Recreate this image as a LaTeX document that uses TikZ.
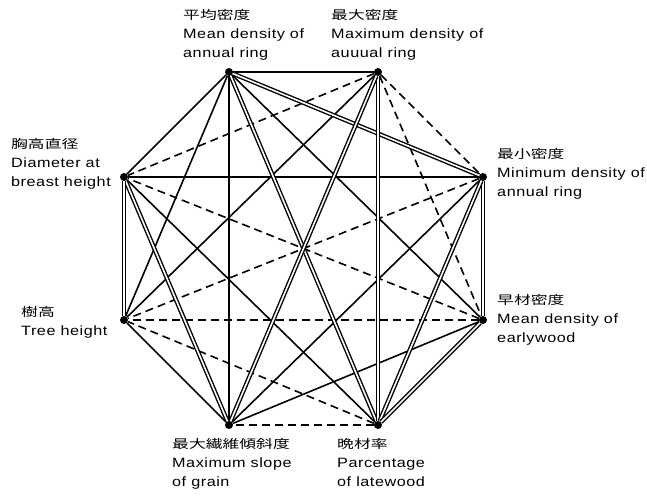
\documentclass[tikz,border=0pt]{standalone}
\usepackage{fontspec}
\setmainfont{Liberation Sans}[FakeStretch=1.2,LetterSpace=4]
\newfontfamily\jpfont{Noto Sans CJK JP}[FakeStretch=1.4]
\newcommand\jpline[1]{{\jpfont\fontsize{12}{19}\selectfont #1}}
\begin{document}
\begin{tikzpicture}[
  x=1pt, y=-1pt,
  tree/.style={circle, fill=black, inner sep=0pt, minimum size=8pt},
  lab/.style={anchor=base west, align=left, inner sep=0pt,
    font=\fontsize{13.5}{19}\selectfont},
  plain/.style={line width=1.6pt},
  strong/.style={double, line width=1.4pt, double distance=1.6pt},
  neg/.style={dash pattern=on 8pt off 5pt, line width=1.6pt},
]
\useasboundingbox (0,0) rectangle (647,498);

% Variables
\node[tree] (meanring) at (229,72) {};
\node[tree] (maxring) at (378,72) {};
\node[tree] (minring) at (483,177) {};
\node[tree] (early) at (483,320) {};
\node[tree] (late) at (378,425) {};
\node[tree] (slope) at (229,425) {};
\node[tree] (height) at (124,320) {};
\node[tree] (dbh) at (124,177) {};

% Labels (anchored on the last line)
\node[lab] (meanringlab) at (183,57) {\jpline{平均密度}\\Mean density of\\annual ring};
\node[lab] (maxringlab) at (331,57) {\jpline{最大密度}\\Maximum density of\\auuual ring};
\node[lab] (minringlab) at (497,196) {\jpline{最小密度}\\Minimum density of\\annual ring};
\node[lab] (earlylab) at (497,342) {\jpline{早材密度}\\Mean density of\\earlywood};
\node[lab] (latelab) at (337,486) {\jpline{晩材率}\\Parcentage\\of latewood};
\node[lab] (slopelab) at (172,486) {\jpline{最大繊維傾斜度}\\Maximum slope\\of grain};
\node[lab] (heightlab) at (21,335) {\jpline{樹高}\\Tree height};
\node[lab] (dbhlab) at (11,186) {\jpline{胸高直径}\\Diameter at\\breast height};

% Dashed links
\draw[neg] (maxring) -- (minring);
\draw[neg] (maxring) -- (early);
\draw[neg] (maxring) -- (dbh);
\draw[neg] (minring) -- (height);
\draw[neg] (early) -- (height);
\draw[neg] (early) -- (dbh);
\draw[neg] (late) -- (slope);
\draw[neg] (late) -- (height);

% Single links
\draw[plain] (meanring) -- (maxring);
\draw[plain] (meanring) -- (early);
\draw[plain] (meanring) -- (slope);
\draw[plain] (meanring) -- (height);
\draw[plain] (meanring) -- (dbh);
\draw[plain] (maxring) -- (height);
\draw[plain] (minring) -- (slope);
\draw[plain] (minring) -- (dbh);
\draw[plain] (early) -- (slope);
\draw[plain] (late) -- (dbh);
\draw[plain] (slope) -- (height);

% Double links
\draw[strong] (meanring) -- (minring);
\draw[strong] (meanring) -- (late);
\draw[strong] (maxring) -- (late);
\draw[strong] (maxring) -- (slope);
\draw[strong] (minring) -- (early);
\draw[strong] (minring) -- (late);
\draw[strong] (early) -- (late);
\draw[strong] (slope) -- (dbh);
\draw[strong] (height) -- (dbh);

\end{tikzpicture}
\end{document}
